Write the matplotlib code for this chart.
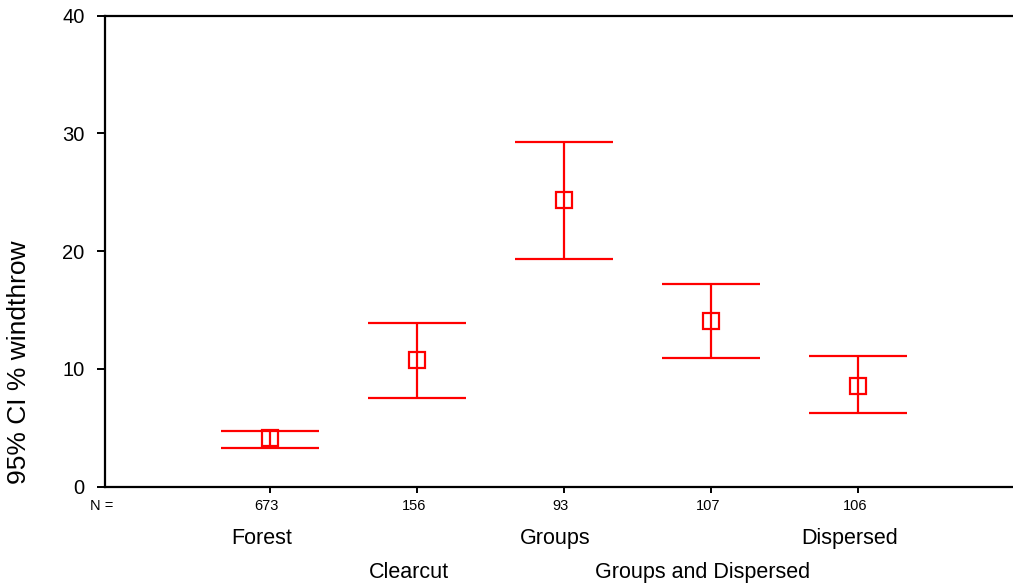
import numpy as np
import matplotlib.pyplot as plt
from matplotlib.transforms import blended_transform_factory

plt.rcParams['font.family'] = ['Liberation Sans', 'DejaVu Sans']

groups = ['Forest', 'Clearcut', 'Groups', 'Groups and Dispersed', 'Dispersed']
counts = [673, 156, 93, 107, 106]
means = [4.08, 10.72, 24.3, 14.03, 8.56]
ci_low = [3.24, 7.54, 19.32, 10.89, 6.22]
ci_high = [4.74, 13.86, 29.23, 17.17, 11.06]

pos = np.arange(1, len(groups) + 1)
m = np.array(means)
yerr = [m - np.array(ci_low), np.array(ci_high) - m]

fig = plt.figure(figsize=(10.13, 5.88), dpi=100)
ax = fig.add_axes([0.1041, 0.1726, 0.8959, 0.801])

ax.errorbar(pos, m, yerr=yerr, fmt='s', color='#ff0000', mfc='none', mec='#ff0000',
            ms=11.5, mew=1.6, elinewidth=1.6, capsize=35, capthick=1.6)

ax.set_xlim(-0.117, 6.057)
ax.set_ylim(0, 40)
ax.set_yticks([0, 10, 20, 30, 40])
ax.set_xticks(pos)
ax.set_xticklabels([])
ax.spines['right'].set_visible(False)
for s in ('left', 'top', 'bottom'):
    ax.spines[s].set_linewidth(1.6)
ax.tick_params(axis='y', direction='out', length=6, width=1.4, labelsize=14.5, pad=9)
ax.tick_params(axis='x', direction='out', length=4, width=1.4)
ax.set_ylabel('95% CI % windthrow', fontsize=19)
ax.yaxis.set_label_coords(-0.082, 0.264)

# N counts and group names under the axis, alternating rows
trans = blended_transform_factory(ax.transData, ax.transAxes)
ax.annotate('N =', xy=(0, 0), xycoords='axes fraction', xytext=(-4, -19),
            textcoords='offset pixels', ha='center', va='center', fontsize=10.5)
for i, (p, n, g) in enumerate(zip(pos, counts, groups)):
    ax.annotate(str(n), xy=(p, 0), xycoords=trans, xytext=(-3, -19),
                textcoords='offset pixels', ha='center', va='center', fontsize=10.5)
    dy = -52 if i % 2 == 0 else -86
    ax.annotate(g, xy=(p, 0), xycoords=trans, xytext=(-8, dy),
                textcoords='offset pixels', ha='center', va='center', fontsize=15.5)

fig.savefig('out.png', dpi=100)
